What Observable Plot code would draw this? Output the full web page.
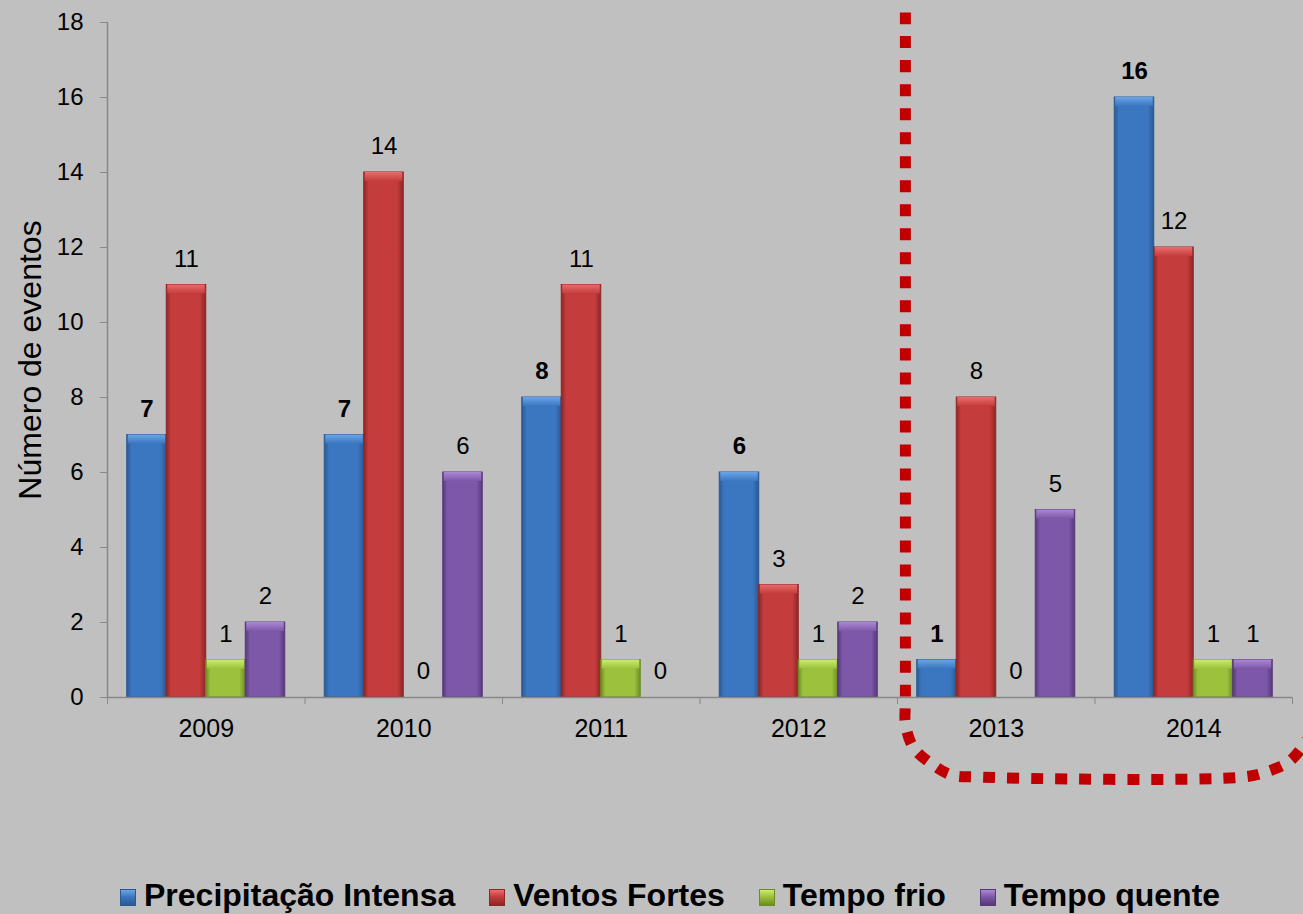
<!DOCTYPE html>
<html><head><meta charset="utf-8">
<script src="https://cdn.jsdelivr.net/npm/d3@7"></script>
<script src="https://cdn.jsdelivr.net/npm/@observablehq/plot@0.6"></script>
<style>
html,body{margin:0;padding:0;background:#c0c0c0;}
body{width:1303px;height:914px;overflow:hidden;font-family:"Liberation Sans",Arial,sans-serif;}
#legend{height:54px;box-sizing:border-box;padding-top:16px;padding-left:120px;display:flex;align-items:center;justify-content:flex-start;font-weight:bold;font-size:32px;color:#000;white-space:nowrap;}
.item{display:flex;align-items:center;margin-right:34px;}
.sw{width:16px;height:17px;margin-right:8px;margin-top:4px;box-sizing:border-box;}
</style></head><body>
<div id="chart"></div><div id="legend"></div>
<script>
// ---- data ----
const years = ["2009", "2010", "2011", "2012", "2013", "2014"];
const series = ["Precipitação Intensa", "Ventos Fortes", "Tempo frio", "Tempo quente"];
const precipitacao = [7, 7, 8, 6, 1, 16];
const ventos = [11, 14, 11, 3, 8, 12];
const frio = [1, 0, 1, 1, 0, 1];
const quente = [2, 6, 0, 2, 5, 1];
const yTicks = [0, 2, 4, 6, 8, 10, 12, 14, 16, 18];
// highlight annotation (dotted outline around 2013–2014), in data units
const highlightX = [4.04, 4.04, 4.04, 4.08, 4.17, 4.27, 4.40, 5.75, 5.87, 5.99, 6.09];
const highlightY = [18.27, -0.08, -0.69, -1.33, -1.76, -2.06, -2.12, -2.12, -1.98, -1.68, -1.01];

// ---- styles ----
const FONT = "'Liberation Sans', Arial, sans-serif";
const palette = [
  {main: "#3b77c0", dark: "#2a5893", light: "#6aa4e8"},
  {main: "#c43c3c", dark: "#8e2525", light: "#ea6c6c"},
  {main: "#9cc23d", dark: "#6d8d22", light: "#cdec70"},
  {main: "#7d58a8", dark: "#56387b", light: "#ab88d6"}
];

const values = [precipitacao, ventos, frio, quente];
const rows = years.flatMap((year, yi) => series.map((s, k) => ({year, yi, series: s, k, value: values[k][yi]})));
const highlight = highlightX.map((x, i) => ({x, y: highlightY[i]}));

const x1 = d => d.yi + 0.1 + 0.2 * d.k;
const x2 = d => d.yi + 0.3 + 0.2 * d.k;
const xc = d => d.yi + 0.2 + 0.2 * d.k;

const barMarks = series.flatMap((s, k) => {
  const data = rows.filter(d => d.k === k && d.value > 0);
  return [
    Plot.rectY(data, {x1, x2, y1: 0, y2: "value", fill: `url(#g${k})`, stroke: palette[k].dark, strokeWidth: 1}),
    Plot.rect(data, {x1, x2, y1: "value", y2: "value", insetBottom: -9, insetLeft: 1, insetRight: 1, fill: `url(#b${k})`})
  ];
});

const chart = Plot.plot({
  width: 1303,
  height: 860,
  marginTop: 22,
  marginBottom: 163,
  marginLeft: 107,
  marginRight: 11,
  style: {background: "#c0c0c0", fontFamily: FONT, fontSize: "24px", color: "#000"},
  x: {domain: [0, 6]},
  y: {domain: [0, 18]},
  marks: [
    Plot.ruleX([0], {stroke: "#888", strokeWidth: 1.5}),
    Plot.axisY({ticks: yTicks, tickSize: 7, tickPadding: 17, stroke: "#888", fill: "#000", fontSize: 24, label: null}),
    Plot.axisX({ticks: d3.range(0, 7), tickSize: 7, stroke: "#888", tickFormat: () => "", label: null}),
    Plot.axisX({ticks: years.map((_, i) => i + 0.5), tickSize: 0, tickPadding: 22, tickFormat: d => years[Math.floor(d)], fill: "#000", fontSize: 25, label: null}),
    Plot.text(["Número de eventos"], {frameAnchor: "left", textAnchor: "middle", rotate: -90, dx: -77, fontSize: 32, fill: "#000"}),
    ...barMarks,
    Plot.ruleY([0], {stroke: "#888", strokeWidth: 1.5}),
    Plot.text(rows.filter(d => d.k === 0), {x: xc, y: "value", text: d => String(d.value), dy: -26, fontSize: 24, fontWeight: "bold", fill: "#000"}),
    Plot.text(rows.filter(d => d.k !== 0), {x: xc, y: "value", text: d => String(d.value), dy: -26, fontSize: 24, fill: "#000"}),
    Plot.line(highlight, {x: "x", y: "y", curve: "catmull-rom", stroke: "#c00000", strokeWidth: 11, strokeDasharray: "12,12", strokeLinecap: "butt"})
  ]
});

// gradient definitions for the bevelled bars
const svg = d3.select(chart);
const defs = svg.insert("defs", ":first-child");
palette.forEach((c, k) => {
  const g = defs.append("linearGradient").attr("id", `g${k}`).attr("x1", 0).attr("x2", 1).attr("y1", 0).attr("y2", 0);
  g.append("stop").attr("offset", "0%").attr("stop-color", c.dark);
  g.append("stop").attr("offset", "12%").attr("stop-color", c.main);
  g.append("stop").attr("offset", "85%").attr("stop-color", c.main);
  g.append("stop").attr("offset", "100%").attr("stop-color", c.dark);
  const b = defs.append("linearGradient").attr("id", `b${k}`).attr("x1", 0).attr("x2", 0).attr("y1", 0).attr("y2", 1);
  b.append("stop").attr("offset", "0%").attr("stop-color", c.light);
  b.append("stop").attr("offset", "100%").attr("stop-color", c.main);
});
document.getElementById("chart").appendChild(chart);

// legend
const legend = d3.select("#legend");
series.forEach((s, k) => {
  const item = legend.append("div").attr("class", "item");
  item.append("div").attr("class", "sw")
    .style("background", `linear-gradient(to bottom, ${palette[k].light} 0%, ${palette[k].main} 45%, ${palette[k].dark} 100%)`)
    .style("border", `1px solid ${palette[k].dark}`);
  item.append("span").text(s);
});
</script>
</body></html>
